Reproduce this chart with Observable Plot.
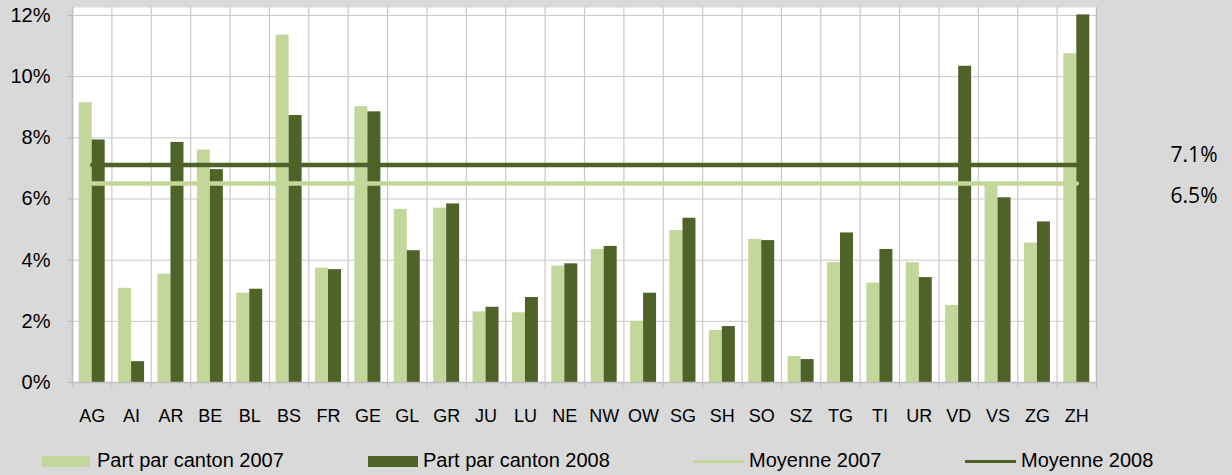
<!DOCTYPE html>
<html>
<head>
<meta charset="utf-8">
<script src="https://cdn.jsdelivr.net/npm/d3@7"></script>
<script src="https://cdn.jsdelivr.net/npm/@observablehq/plot@0.6"></script>
<style>
html, body { margin: 0; padding: 0; background: #d9d9d9; }
#wrap { position: relative; width: 1232px; height: 475px; overflow: hidden; background: #d9d9d9;
  font-family: "Liberation Sans", Arial, sans-serif; }
#legend { position: absolute; left: 0; top: 440px; width: 1232px; height: 35px; }
.sw { position: absolute; }
.lt { position: absolute; font-size: 20px; line-height: 20px; color: #000; white-space: nowrap; }
</style>
</head>
<body>
<div id="wrap">
  <div id="chart"></div>
  <div id="legend"></div>
</div>
<script>
// ---- data ----
const cantons = ["AG","AI","AR","BE","BL","BS","FR","GE","GL","GR","JU","LU","NE","NW","OW","SG","SH","SO","SZ","TG","TI","UR","VD","VS","ZG","ZH"];
const part2007 = [9.15,3.08,3.54,7.60,2.92,11.36,3.74,9.02,5.66,5.70,2.31,2.28,3.81,4.35,2.00,4.97,1.70,4.68,0.85,3.92,3.25,3.92,2.52,6.50,4.56,10.75];
const part2008 = [7.93,0.68,7.85,6.96,3.05,8.73,3.69,8.85,4.31,5.84,2.46,2.78,3.88,4.45,2.92,5.37,1.83,4.64,0.75,4.89,4.35,3.43,10.34,6.04,5.25,12.02];
const moyenne2007 = 6.51;
const moyenne2008 = 7.11;
const moyenneLabel2007 = "6.5%";
const moyenneLabel2008 = "7.1%";
const yTicks = [0, 2, 4, 6, 8, 10, 12];
const seriesNames = ["Part par canton 2007", "Part par canton 2008", "Moyenne 2007", "Moyenne 2008"];

// ---- style ----
const light = "#c4d79b";
const dark = "#4f6228";
const gridColor = "#c9c9c9";
const axisColor = "#bdbdbd";

const W = 1232, H = 440;
const mL = 72, mR = 136, mT = 15, mB = 58;
const bw = (W - mL - mR) / cantons.length;

const rows2007 = cantons.map((c, i) => ({canton: c, v: part2007[i]}));
const rows2008 = cantons.map((c, i) => ({canton: c, v: part2008[i]}));
const mean2007Rows = cantons.map(c => ({canton: c, v: moyenne2007}));
const mean2008Rows = cantons.map(c => ({canton: c, v: moyenne2008}));

const chart = Plot.plot({
  width: W,
  height: H,
  marginLeft: mL,
  marginRight: mR,
  marginTop: mT,
  marginBottom: mB,
  style: {background: "#d9d9d9", fontFamily: "'Liberation Sans', Arial, sans-serif", color: "#000"},
  x: {type: "band", domain: cantons, padding: 0, round: false},
  y: {domain: [0, 12]},
  marks: [
    Plot.frame({fill: "white", insetTop: -8}),
    Plot.gridY(yTicks, {stroke: gridColor, strokeOpacity: 1, strokeWidth: 1}),
    Plot.ruleX(cantons, {x: d => d, dx: -bw / 2, stroke: gridColor, strokeWidth: 1.2, insetTop: -8, insetBottom: -6}),
    Plot.ruleX([cantons[cantons.length - 1]], {x: d => d, dx: bw / 2, stroke: axisColor, strokeWidth: 1.5, insetTop: -8, insetBottom: -6}),
    Plot.ruleX([cantons[0]], {x: d => d, dx: -bw / 2, stroke: axisColor, strokeWidth: 1.5, insetTop: -8, insetBottom: 0}),
    Plot.barY(rows2007, {x: "canton", y: "v", fill: light, insetLeft: 6.7, insetRight: bw - 19.7}),
    Plot.barY(rows2008, {x: "canton", y: "v", fill: dark, insetLeft: 19.7, insetRight: 6.7}),
    Plot.ruleY([0], {stroke: axisColor, strokeWidth: 1.6}),
    Plot.lineY(mean2007Rows, {x: "canton", y: "v", stroke: light, strokeWidth: 4.5, strokeLinecap: "round"}),
    Plot.lineY(mean2008Rows, {x: "canton", y: "v", stroke: dark, strokeWidth: 4.5, strokeLinecap: "round"}),
    Plot.axisY(yTicks, {tickFormat: d => d + "%", tickSize: 5, tickPadding: 17, fontSize: 20, stroke: axisColor, fill: "#000", label: null}),
    Plot.axisX({tickSize: 0, tickPadding: 27, fontSize: 18, fill: "#000", label: null}),
    Plot.text([{v: moyenne2008, t: moyenneLabel2008}], {y: "v", text: "t", frameAnchor: "right", textAnchor: "end", dx: 121, dy: -10, fontSize: 21, fontFamily: "'Open Sans', sans-serif", fill: "#000"}),
    Plot.text([{v: moyenne2007, t: moyenneLabel2007}], {y: "v", text: "t", frameAnchor: "right", textAnchor: "end", dx: 121, dy: 13, fontSize: 21, fontFamily: "'Open Sans', sans-serif", fill: "#000"})
  ]
});
document.getElementById("chart").appendChild(chart);

// ---- legend (HTML, below the SVG) ----
const legend = document.getElementById("legend");
const legendItems = [
  {name: seriesNames[0], kind: "rect", color: light, sx: 42, sw: 48, tx: 97},
  {name: seriesNames[1], kind: "rect", color: dark, sx: 368, sw: 50, tx: 423},
  {name: seriesNames[2], kind: "line", color: light, sx: 694, sw: 50, tx: 749},
  {name: seriesNames[3], kind: "line", color: dark, sx: 965, sw: 51, tx: 1021}
];
for (const it of legendItems) {
  const s = document.createElement("div");
  s.className = "sw";
  s.style.left = it.sx + "px";
  s.style.width = it.sw + "px";
  s.style.background = it.color;
  if (it.kind === "rect") { s.style.top = "16px"; s.style.height = "11px"; }
  else { s.style.top = "20px"; s.style.height = "3px"; }
  legend.appendChild(s);
  const t = document.createElement("div");
  t.className = "lt";
  t.style.left = it.tx + "px";
  t.style.top = "10px";
  t.textContent = it.name;
  legend.appendChild(t);
}
</script>
</body>
</html>
